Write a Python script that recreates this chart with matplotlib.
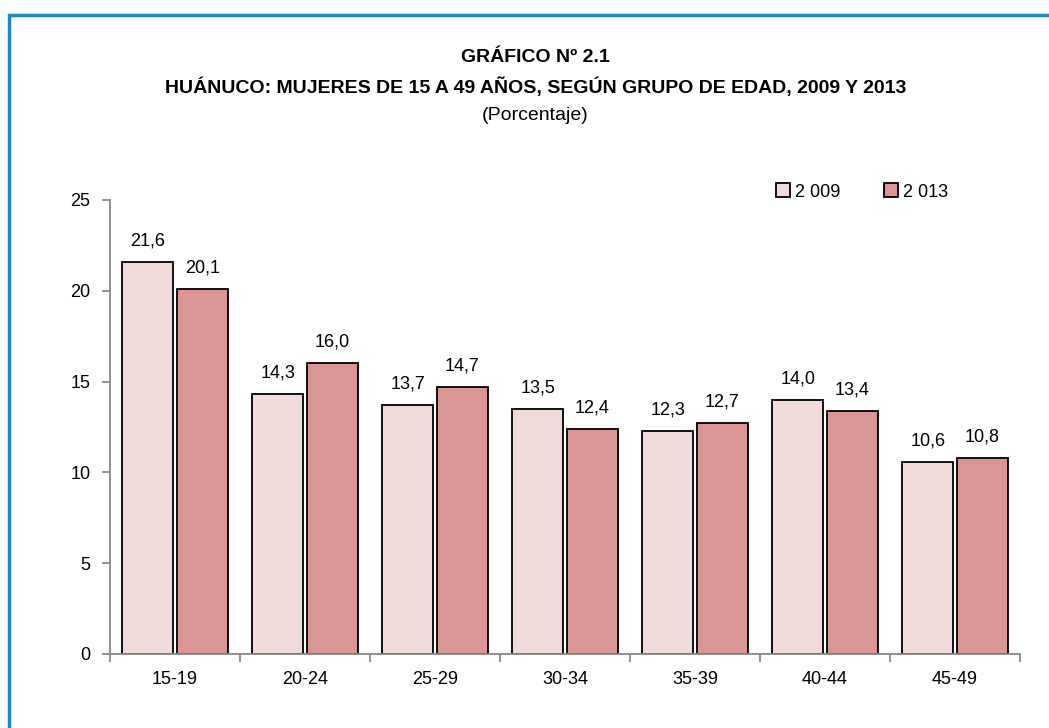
import numpy as np
import matplotlib
matplotlib.use('Agg')
from matplotlib import pyplot as plt
from matplotlib.patches import Rectangle

# Data
grupos = ['15-19', '20-24', '25-29', '30-34', '35-39', '40-44', '45-49']
val_2009 = [21.6, 14.3, 13.7, 13.5, 12.3, 14.0, 10.6]
val_2013 = [20.1, 16.0, 14.7, 12.4, 12.7, 13.4, 10.8]
serie_labels = ['2 009', '2 013']

plt.rcParams['font.family'] = ['Liberation Sans', 'DejaVu Sans']

fig = plt.figure(figsize=(10.49, 7.28), dpi=100)
W, H = 1049, 728

# blue frame (open to the right and bottom)
fig.patches.append(Rectangle((9/W, -0.05), 1.1, 1 - 15/H + 0.05, transform=fig.transFigure,
                             fill=False, edgecolor='#1a8cc0', linewidth=2.5))

ax = fig.add_axes([110/W, 1 - 654/H, (1020-110)/W, (654-200)/H])

x = np.arange(len(grupos))
w = 0.39
off = 0.21
b1 = ax.bar(x - off, val_2009, w, color='#F2DCDB', edgecolor='black', linewidth=1.3, label=serie_labels[0])
b2 = ax.bar(x + off, val_2013, w, color='#D99694', edgecolor='black', linewidth=1.3, label=serie_labels[1])

for bars, vals in [(b1, val_2009), (b2, val_2013)]:
    for r, v in zip(bars, vals):
        ax.annotate(('%.1f' % v).replace('.', ','), (r.get_x() + r.get_width()/2, v),
                    xytext=(0, 9), textcoords='offset points', ha='center', va='bottom', fontsize=13)

ax.set_xlim(-0.5, len(grupos) - 0.5)
ax.set_ylim(0, 25)
ax.set_yticks([0, 5, 10, 15, 20, 25])
ax.set_xticks(x)
ax.set_xticklabels(grupos, fontsize=13)
ax.set_xticks(np.arange(-0.5, len(grupos)), minor=True)
ax.tick_params(axis='x', which='major', length=0, pad=12)
ax.tick_params(axis='x', which='minor', length=5.5, color='#888888', width=1.3)
ax.tick_params(axis='y', length=6, color='#888888', width=1.3, labelsize=13, pad=8)
for s in ['top', 'right']:
    ax.spines[s].set_visible(False)
for s in ['left', 'bottom']:
    ax.spines[s].set_color('#888888')
    ax.spines[s].set_linewidth(1.3)

leg = fig.legend(handles=[b1, b2], labels=serie_labels, loc='center left',
                 bbox_to_anchor=(776/W, 1 - 192/H), ncol=2, frameon=False,
                 fontsize=13, handlelength=0.8, handleheight=0.8, handletextpad=0.25,
                 columnspacing=2.4, borderpad=0, borderaxespad=0)

fig.text(535/W, 1 - 58/H, 'GRÁFICO Nº 2.1', ha='center', va='center', fontsize=14, fontweight='bold')
fig.text(536/W, 1 - 87/H, 'HUÁNUCO: MUJERES DE 15 A 49 AÑOS, SEGÚN GRUPO DE EDAD, 2009 Y 2013',
         ha='center', va='center', fontsize=14, fontweight='bold')
fig.text(535/W, 1 - 115/H, '(Porcentaje)', ha='center', va='center', fontsize=14)

fig.savefig('out.png', dpi=100)
